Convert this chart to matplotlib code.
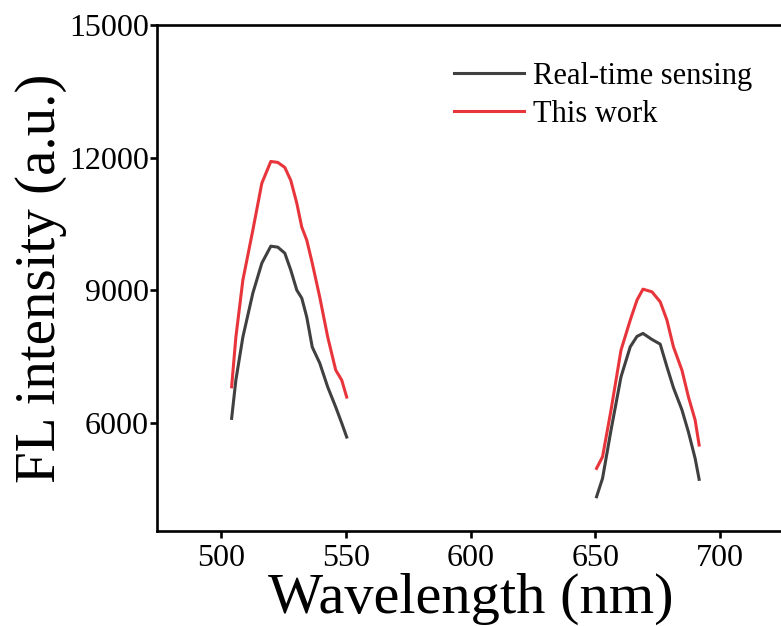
import matplotlib
matplotlib.use("Agg")
import matplotlib.pyplot as plt

# ============== DATA ==============
# green-channel band (~520 nm)
wl_green = [504.3, 506.0, 508.8, 512.8, 516.4, 520.0, 522.8, 525.6, 528.0,
            530.4, 532.4, 534.4, 536.6, 539.6, 542.8, 546.0, 548.4, 550.4]
rt_green = [6106, 6972, 7944, 8938, 9616, 10000, 9977, 9842, 9458,
            9006, 8825, 8396, 7718, 7356, 6814, 6362, 6000, 5684]
tw_green = [6820, 7944, 9232, 10362, 11424, 11915, 11893, 11780, 11486,
            10972, 10430, 10136, 9616, 8848, 7944, 7198, 6972, 6588]

# red-channel band (~670 nm)
wl_red = [650.5, 652.9, 656.3, 660.3, 664.0, 666.7, 669.1, 672.7, 676.0,
          678.7, 681.3, 684.7, 687.3, 690.0, 691.6]
rt_red = [4334, 4750, 5842, 7046, 7724, 7960, 8027, 7890, 7785,
          7272, 6800, 6300, 5800, 5200, 4728]
tw_red = [4976, 5238, 6294, 7650, 8328, 8780, 9028, 8967, 8742,
          8328, 7724, 7198, 6594, 6068, 5503]

xticks = [500, 550, 600, 650, 700]
yticks = [6000, 9000, 12000, 15000]
# ==================================

plt.rcParams['font.family'] = ['Liberation Serif', 'DejaVu Serif']

BLACK = '#404040'
RED = '#e8353b'

fig = plt.figure(figsize=(7.81, 6.26), dpi=100)
ax = fig.add_axes([157 / 781, 95 / 626, 628 / 781, 506 / 626])

ax.plot(wl_green, rt_green, color=BLACK, lw=2.2, label='Real-time sensing')
ax.plot(wl_green, tw_green, color=RED, lw=2.2, label='This work')
ax.plot(wl_red, rt_red, color=BLACK, lw=2.2)
ax.plot(wl_red, tw_red, color=RED, lw=2.2)

ax.set_xlim(474.4, 726)
ax.set_ylim(3560, 15000)
ax.set_xticks(xticks)
ax.set_yticks(yticks)

for s in ax.spines.values():
    s.set_linewidth(1.9)
ax.tick_params(direction='out', length=5, width=1.9, labelsize=23)
ax.tick_params(axis='y', pad=1)
ax.tick_params(axis='x', pad=4)

ax.set_xlabel('Wavelength (nm)', fontsize=42, labelpad=0)
ax.set_ylabel('FL intensity (a.u.)', fontsize=41, labelpad=1)

ax.legend(loc='upper left', bbox_to_anchor=(454 / 781, 1 - 62 / 626),
          bbox_transform=fig.transFigure, frameon=False, fontsize=22,
          handlelength=2.3, handletextpad=0.3, labelspacing=0.28,
          borderpad=0, borderaxespad=0)

fig.savefig('out.png', dpi=100)
